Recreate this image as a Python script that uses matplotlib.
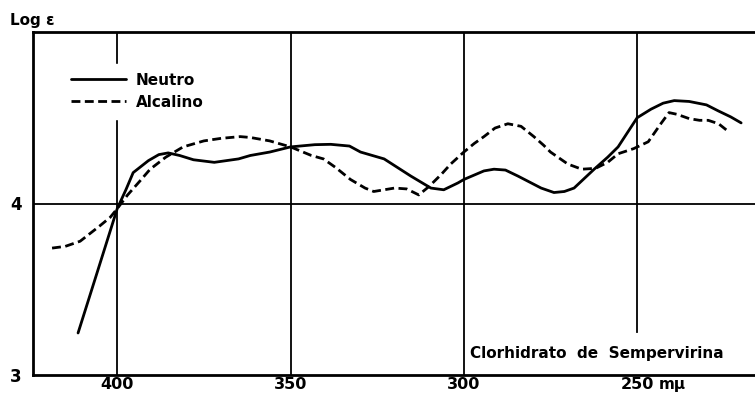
import matplotlib.pyplot as plt
import matplotlib.ticker as mticker

# wavelength (m\u03bc) and log epsilon
neutro_nm = [411.3, 405.6, 400.0, 397.5, 395.4, 391.0, 388.0, 385.3, 382.0, 378.0,
             372.0, 365.0, 361.6, 356.0, 350.0, 343.0, 338.4, 333.0, 329.8, 323.0,
             315.3, 309.5, 305.8, 301.7, 300.0, 294.2, 291.3, 288.0, 284.4, 277.7,
             274.0, 271.0, 268.2, 262.4, 258.5, 255.5, 250.0, 246.0, 242.5, 239.3,
             235.0, 230.0, 226.6, 223.0, 220.0]
neutro_log = [3.245, 3.61, 3.97, 4.08, 4.18, 4.25, 4.285, 4.295, 4.28, 4.255,
              4.24, 4.26, 4.28, 4.30, 4.33, 4.343, 4.345, 4.335, 4.30, 4.26,
              4.16, 4.09, 4.08, 4.12, 4.14, 4.19, 4.20, 4.195, 4.16, 4.09,
              4.064, 4.07, 4.09, 4.20, 4.27, 4.33, 4.50, 4.55, 4.585, 4.60,
              4.595, 4.575, 4.54, 4.505, 4.47]

alcalino_nm = [418.8, 415.0, 410.7, 405.0, 402.0, 400.0, 397.0, 393.5, 390.5, 386.0,
               381.0, 375.0, 370.0, 364.5, 361.6, 356.0, 350.0, 344.0, 340.5, 337.0,
               332.7, 328.5, 326.0, 323.0, 320.0, 316.5, 313.0, 310.0, 306.5, 303.8,
               300.0, 297.0, 294.2, 291.0, 287.3, 283.5, 279.8, 277.0, 275.0, 270.0,
               266.0, 262.0, 258.5, 255.5, 251.0, 246.8, 243.0, 240.8, 238.5, 235.0,
               232.0, 229.5, 226.5, 223.7]
alcalino_log = [3.74, 3.75, 3.78, 3.87, 3.92, 3.97, 4.05, 4.13, 4.20, 4.27,
                4.33, 4.365, 4.38, 4.39, 4.385, 4.365, 4.33, 4.28, 4.26, 4.21,
                4.14, 4.09, 4.07, 4.08, 4.09, 4.085, 4.05, 4.10, 4.17, 4.23,
                4.30, 4.35, 4.39, 4.44, 4.465, 4.45, 4.39, 4.34, 4.30, 4.23,
                4.20, 4.205, 4.24, 4.29, 4.32, 4.36, 4.47, 4.53, 4.52, 4.495,
                4.485, 4.485, 4.465, 4.42]

grid_nm = [400, 350, 300, 250]
x_labels = ["400", "350", "300", "250"]
y_ticks = [3, 4]

fig = plt.figure(figsize=(7.55, 3.98), dpi=100)
ax = fig.add_axes([33 / 755, (398 - 375) / 398, 1 - 33 / 755, (375 - 32) / 398])
ax.set_xlim(424.3, 216.0)
ax.set_ylim(3.0, 5.0)

for nm in grid_nm:
    low = 0.125 if nm == 250 else 0.0
    ax.axvline(nm, ymin=low, ymax=1.0, color="black", lw=1.3, zorder=1)
ax.axhline(4, color="black", lw=1.3, zorder=1)

ax.plot(neutro_nm, neutro_log, color="black", lw=2.0, label="Neutro",
        solid_capstyle="round", solid_joinstyle="round", zorder=3)
ax.plot(alcalino_nm, alcalino_log, color="black", lw=2.0, ls=(0, (3.2, 1.6)),
        label="Alcalino", zorder=3)

for side in ("left", "bottom", "top"):
    ax.spines[side].set_linewidth(2.0)
ax.spines["right"].set_visible(False)

ax.xaxis.set_major_locator(mticker.FixedLocator(grid_nm))
ax.set_xticklabels(x_labels, fontsize=11.5, fontweight="bold")
ax.set_yticks(y_ticks)
ax.set_yticklabels([str(v) for v in y_ticks], fontsize=12, fontweight="bold")
ax.tick_params(axis="x", length=0, pad=1.5)
ax.tick_params(axis="y", length=0, pad=8)

leg = ax.legend(loc="upper left", bbox_to_anchor=(0.03, 0.93), frameon=True,
                fancybox=False, handlelength=3.6, handletextpad=0.6,
                borderpad=0.6, labelspacing=0.45,
                prop={"weight": "bold", "size": 11})
leg.get_frame().set_edgecolor("white")
leg.get_frame().set_facecolor("white")
leg.get_frame().set_alpha(1.0)
leg.set_zorder(5)

ax.text(0.605, 0.063, "Clorhidrato  de  Sempervirina", transform=ax.transAxes,
        fontsize=11, fontweight="bold", ha="left", va="center")
fig.text(659 / 755, 1 - 385 / 398, "m\u03bc", fontsize=11, fontweight="bold",
         ha="left", va="center")
fig.text(10 / 755, 1 - 21 / 398, "Log \u03b5", fontsize=11, fontweight="bold",
         ha="left", va="center")

fig.savefig("out.png", dpi=100)
